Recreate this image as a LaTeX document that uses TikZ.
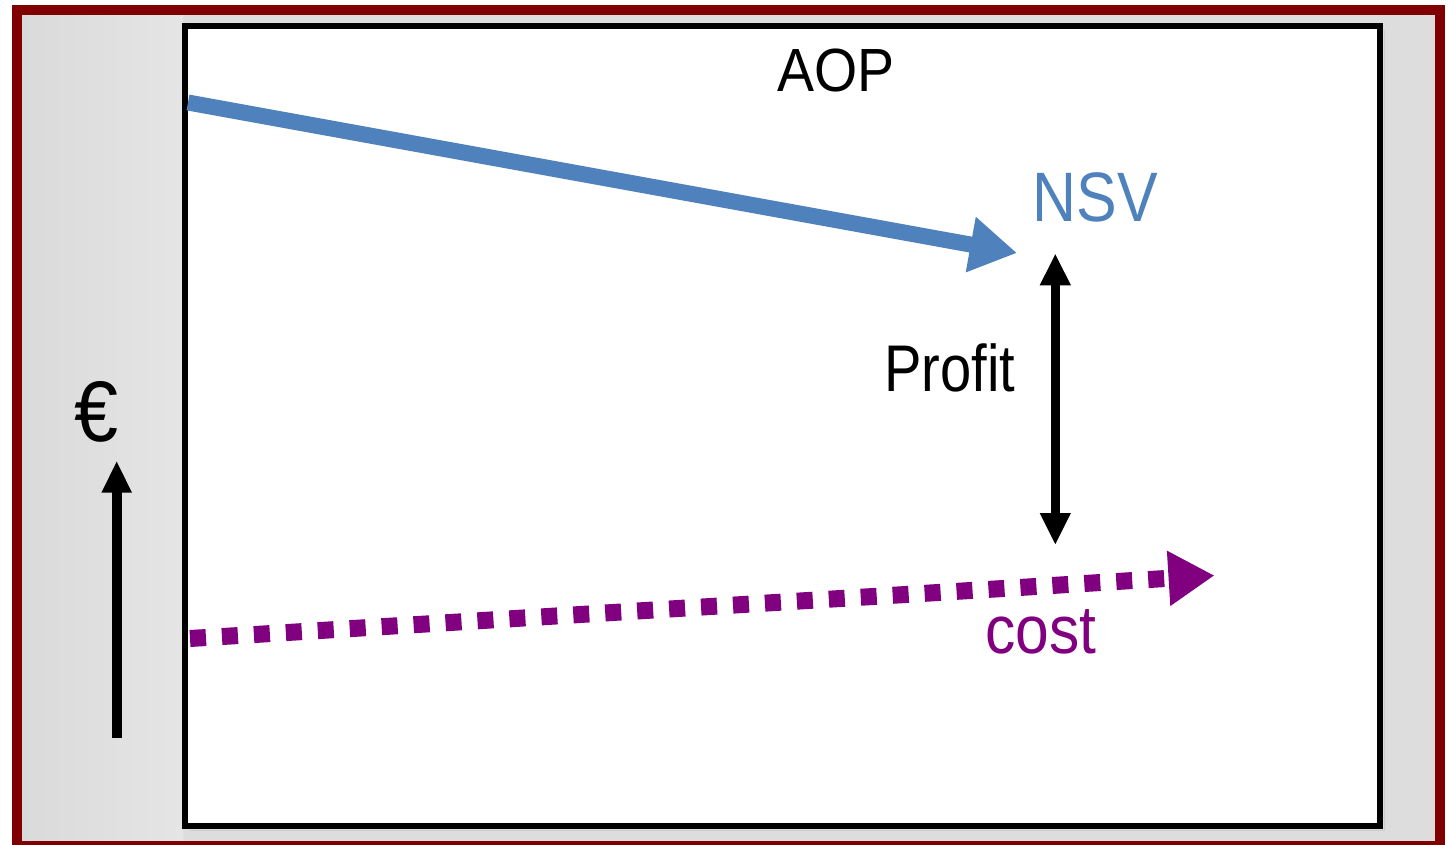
\documentclass[tikz,border=0pt]{standalone}
\usepackage{fontspec}
\setmainfont{Liberation Sans}
\usetikzlibrary{arrows.meta}

\definecolor{framered}{HTML}{800000}
\definecolor{nsvblue}{HTML}{4F81BD}
\definecolor{costpurple}{HTML}{800080}
\definecolor{bgbase}{HTML}{DDDDDD}
\definecolor{bgdark}{HTML}{DADADA}
\definecolor{bglight}{HTML}{E5E5E5}

\begin{document}
\begin{tikzpicture}[x=1pt, y=-1pt,
  txt/.style={inner sep=0pt, anchor=base},
  bigtip/.style={-{Triangle[length=47pt, width=53pt]}},
  gaptips/.style={{Triangle[length=32pt, width=28.6pt]}-{Triangle[length=32pt, width=28.6pt]}}
]
\useasboundingbox (0,0) rectangle (1448,845);

% outer panel with maroon frame
\fill[bgbase] (17,10) rectangle (1440,846);
\shade[left color=bgdark, right color=bglight] (22,15) rectangle (183,841);
\draw[framered, line width=10pt] (17,10) rectangle (1440,846);

% white chart area with a faint shadow
\draw[gray!40, line width=1.5pt] (1384.5,30) -- (1384.5,830.5) -- (190,830.5);
\draw[black, fill=white, line width=6pt] (185,26) rectangle (1380,826);

% labels
\node[txt, font=\fontsize{61}{70}\selectfont, xscale=0.91] (aop) at (836,91.7) {AOP};
\node[txt, text=nsvblue, font=\fontsize{70}{80}\selectfont, xscale=0.87] (nsv) at (1095.5,221.7) {NSV};
\node[txt, font=\fontsize{66}{76}\selectfont, xscale=0.85] (profit) at (950,391) {Profit};
\node[txt, text=costpurple, font=\fontsize{68}{78}\selectfont, xscale=0.89] (cost) at (1041,653.3) {cost};
\node[txt, font=\fontsize{86}{96}\selectfont, xscale=0.92] (euro) at (96.5,441) {€};

% revenue line
\coordinate (nsvStart) at (188,102.5);
\coordinate (nsvTip) at (1017,253);
\draw[nsvblue, line width=16pt, bigtip] (nsvStart) -- (nsvTip);

% cost line
\coordinate (costStart) at (190,638.5);
\coordinate (costTip) at (1214.5,575.5);
\draw[costpurple, line width=17pt, dash pattern=on 16pt off 16pt,
      -{Triangle[length=46pt, width=52pt]}] (costStart) -- (costTip);

% profit gap
\coordinate (gapTop) at (1055.3,253.3);
\coordinate (gapBottom) at (1055.3,545);
\draw[black, line width=9.5pt, gaptips] (gapTop) -- (gapBottom);

% money axis
\coordinate (axisBottom) at (116.7,738);
\coordinate (axisTop) at (116.7,460.7);
\draw[black, line width=10pt, -{Triangle[length=32pt, width=28pt]}] (axisBottom) -- (axisTop);
\end{tikzpicture}
\end{document}
